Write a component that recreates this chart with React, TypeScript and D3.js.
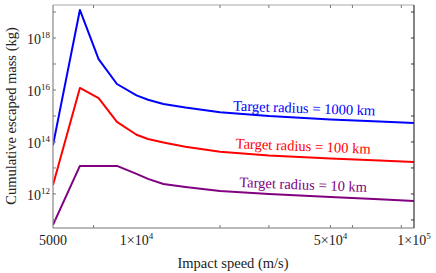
import React from 'react';
import * as d3 from 'd3';

// impact speeds (m/s)
const speeds = [5000, 6250, 7300, 8500, 10000, 11000, 12500, 15000, 20000, 30000, 50000, 75000, 100000];

// cumulative escaped mass (kg) per target radius
const mass1000km = [7.6e13, 1.2e19, 1.55e17, 1.7e16, 6.2e15, 4.2e15, 2.9e15, 2.1e15, 1.4e15, 1.0e15, 7.4e14, 6.2e14, 5.4e14];
const mass100km = [2.2e12, 1.2e16, 4.9e15, 5.9e14, 1.9e14, 1.3e14, 9.5e13, 6.5e13, 4.2e13, 3.0e13, 2.3e13, 1.95e13, 1.7e13];
const mass10km = [6.5e10, 1.2e13, 1.2e13, 1.2e13, 5.9e12, 3.8e12, 2.4e12, 1.85e12, 1.3e12, 1.0e12, 7.6e11, 6.2e11, 5.4e11];

const seriesNames = ['Target radius = 1000 km', 'Target radius = 100 km', 'Target radius = 10 km'];
const seriesColors = ['#0000ff', '#ff0000', '#800080'];

// axis ticks
const xLabelTicks = [
  { v: 5000, base: '5000', exp: '' },
  { v: 1e4, base: '1\u00d710', exp: '4' },
  { v: 5e4, base: '5\u00d710', exp: '4' },
  { v: 1e5, base: '1\u00d710', exp: '5' },
];
const xMarkTicks = [7000, 20000, 30000, 50000, 60000, 90000];
const yLabelExps = [12, 14, 16, 18];
const yMarkExps = [11, 12, 13, 14, 15, 16, 17, 18, 19];

const W = 436;
const H = 273;
const left = 53, right = 414, top = 5, bottom = 228;
const font = "'Times New Roman', 'Liberation Serif', serif";

export default function App() {
  const x = d3.scaleLog().domain([5000, 1e5]).range([left, right]);
  const y = d3.scaleLog().domain([Math.pow(10, 10.69), Math.pow(10, 19.27)]).range([bottom, top]);

  const line = d3.line<number>()
    .x((_, i) => x(speeds[i]))
    .y(d => y(d));

  const all = [mass1000km, mass100km, mass10km];
  // label placement: [x center, baseline y, rotation]
  const labelPos = [[304, 113, 2], [303, 151, 2.3], [303, 189.5, 2.2]];
  const txt = { fontFamily: font };

  return (
    <svg width={W} height={H} style={{ position: 'absolute', left: 0, top: 0, background: '#fff', fontFamily: font }}>
      <defs>
        <clipPath id="plot"><rect x={left} y={top} width={right - left} height={bottom - top} /></clipPath>
      </defs>

      {/* series */}
      <g clipPath="url(#plot)">
        {all.map((s, i) => (
          <path key={i} d={line(s) || ''} fill="none" stroke={seriesColors[i]} strokeWidth={2} strokeLinejoin="round" />
        ))}
      </g>

      {/* frame */}
      <line x1={left} x2={right} y1={top} y2={top} stroke="#aaa" strokeWidth={1.2} />
      <line x1={left} x2={left} y1={top} y2={bottom} stroke="#888" strokeWidth={1.2} />
      <line x1={left} x2={right} y1={bottom} y2={bottom} stroke="#777" strokeWidth={1.2} />
      <line x1={right} x2={right} y1={top} y2={bottom} stroke="#333" strokeWidth={1.2} />

      {/* x ticks */}
      {xMarkTicks.map(v => (
        <g key={v}>
          <line x1={x(v)} x2={x(v)} y1={bottom} y2={bottom - 3} stroke="#777" />
          <line x1={x(v)} x2={x(v)} y1={top} y2={top + 3} stroke="#777" />
        </g>
      ))}
      {xLabelTicks.map(t => (
        <text key={t.v} x={x(t.v)} y={245} textAnchor="middle" fontSize={14} fill="#222" style={txt}>
          {t.base}
          {t.exp && <tspan fontSize={9} dy={-6}>{t.exp}</tspan>}
        </text>
      ))}

      {/* y ticks */}
      {yMarkExps.map(e => (
        <g key={e}>
          <line x1={left} x2={left + 3} y1={y(Math.pow(10, e))} y2={y(Math.pow(10, e))} stroke="#777" />
          <line x1={right} x2={right - 3} y1={y(Math.pow(10, e))} y2={y(Math.pow(10, e))} stroke="#333" />
        </g>
      ))}
      {yLabelExps.map(e => (
        <text key={e} x={50} y={y(Math.pow(10, e)) + 6} textAnchor="end" fontSize={14} fill="#222" style={txt}>
          10
          <tspan fontSize={9} dy={-6}>{e}</tspan>
        </text>
      ))}

      {/* series labels */}
      {seriesNames.map((n, i) => {
        const [lx, ly, r] = labelPos[i];
        return (
          <text key={n} x={lx} y={ly} textAnchor="middle" fontSize={14.5} fill={seriesColors[i]} style={txt}
            transform={`rotate(${r},${lx},${ly})`}>
            {n}
          </text>
        );
      })}

      {/* axis titles */}
      <text x={233} y={268} textAnchor="middle" fontSize={14.5} fill="#222" style={txt}>Impact speed (m/s)</text>
      <text transform="translate(16,116) rotate(-90)" textAnchor="middle" fontSize={14.5} fill="#222" style={txt}>
        Cumulative escaped mass (kg)
      </text>
    </svg>
  );
}
